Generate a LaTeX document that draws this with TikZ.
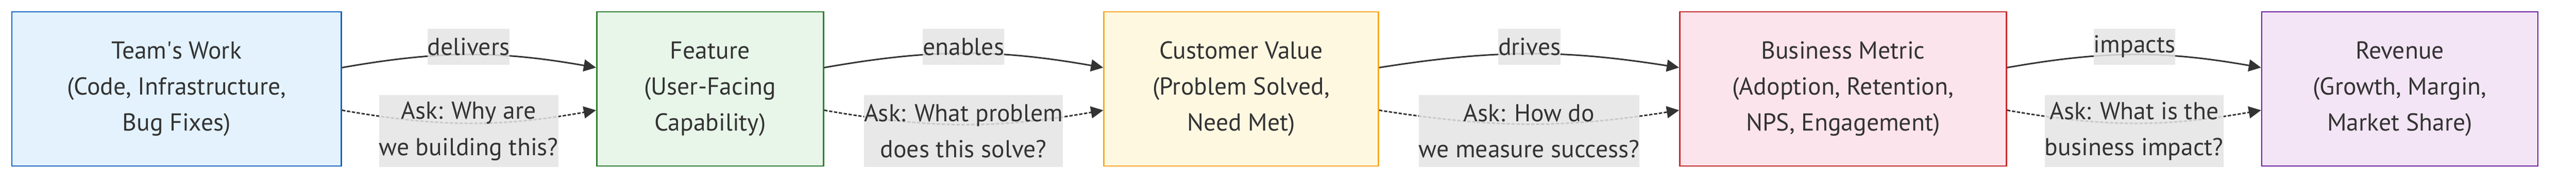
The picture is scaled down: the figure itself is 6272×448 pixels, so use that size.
\documentclass[tikz,border=0pt]{standalone}
\usepackage{fontspec}
\setmainfont{PT Sans}
\usepackage{tikz}
\usetikzlibrary{arrows.meta}
\definecolor{ink}{HTML}{333333}
\definecolor{labelgray}{HTML}{E4E4E4}
\definecolor{workfill}{HTML}{E3F2FD}
\definecolor{workline}{HTML}{1565C0}
\definecolor{featfill}{HTML}{E8F5E9}
\definecolor{featline}{HTML}{2E7D32}
\definecolor{valfill}{HTML}{FFF8E1}
\definecolor{valline}{HTML}{F9A825}
\definecolor{metfill}{HTML}{FCE4EC}
\definecolor{metline}{HTML}{C62828}
\definecolor{revfill}{HTML}{F3E5F5}
\definecolor{revline}{HTML}{6A1B9A}
\tikzset{
    stage/.style={draw, line width=0.95pt, text=ink, align=center, inner sep=0pt,
        minimum height=3.76cm, font=\fontsize{17}{25}\selectfont},
    edgelabel/.style={fill=labelgray, fill opacity=0.85, text opacity=1, text=ink,
        align=center, inner xsep=0pt, inner ysep=0pt, minimum height=0.88cm,
        font=\fontsize{17}{25}\selectfont},
    asklabel/.style={edgelabel, minimum height=1.76cm},
    flow/.style={ink, line width=1.05pt, -{Triangle[length=0.3cm, width=0.29cm]}},
    probe/.style={flow, dash pattern=on 0.08cm off 0.04cm}
}

\begin{document}
\begin{tikzpicture}[x=0.01cm, y=0.01cm]
		\useasboundingbox (0,0) rectangle (6272,448);

		\node[stage, fill=workfill, draw=workline, minimum width=8.02cm] (work) at (430,231)
			{Team\textquotesingle s Work\\(Code, Infrastructure,\\Bug Fixes)};
		\node[stage, fill=featfill, draw=featline, minimum width=5.52cm] (feature) at (1729,231)
			{Feature\\(User-Facing\\Capability)};
		\node[stage, fill=valfill, draw=valline, minimum width=6.68cm] (value) at (3022,231)
			{Customer Value\\(Problem Solved,\\Need Met)};
		\node[stage, fill=metfill, draw=metline, minimum width=7.95cm] (metric) at (4487.5,231)
			{Business Metric\\(Adoption, Retention,\\NPS, Engagement)};
		\node[stage, fill=revfill, draw=revline, minimum width=6.72cm] (revenue) at (5843,231)
			{Revenue\\(Growth, Margin,\\Market Share)};

		% arrows
		\draw[flow] ([yshift=5.2mm]work.east) to[out=10, in=170] ([yshift=5.2mm]feature.west);
		\draw[probe] ([yshift=-5.2mm]work.east) to[out=-10, in=-170] ([yshift=-5.2mm]feature.west);
		\draw[flow] ([yshift=5.2mm]feature.east) to[out=10, in=170] ([yshift=5.2mm]value.west);
		\draw[probe] ([yshift=-5.2mm]feature.east) to[out=-10, in=-170] ([yshift=-5.2mm]value.west);
		\draw[flow] ([yshift=5.2mm]value.east) to[out=9, in=171] ([yshift=5.2mm]metric.west);
		\draw[probe] ([yshift=-5.2mm]value.east) to[out=-9, in=-171] ([yshift=-5.2mm]metric.west);
		\draw[flow] ([yshift=5.2mm]metric.east) to[out=10, in=170] ([yshift=5.2mm]revenue.west);
		\draw[probe] ([yshift=-5.2mm]metric.east) to[out=-10, in=-170] ([yshift=-5.2mm]revenue.west);

		% labels
		\node[edgelabel] (delivers) at (1141,334) {delivers};
		\node[asklabel] (askwhy) at (1141,128) {Ask: Why are\\we building this?};
		\node[edgelabel] (enables) at (2346,334) {enables};
		\node[asklabel] (askproblem) at (2346,128) {Ask: What problem\\does this solve?};
		\node[edgelabel] (drives) at (3724,334) {drives};
		\node[asklabel] (askmeasure) at (3723,128) {Ask: How do\\we measure success?};
		\node[edgelabel] (impacts) at (5197,334) {impacts};
		\node[asklabel] (askimpact) at (5196,128) {Ask: What is the\\business impact?};
\end{tikzpicture}
\end{document}
